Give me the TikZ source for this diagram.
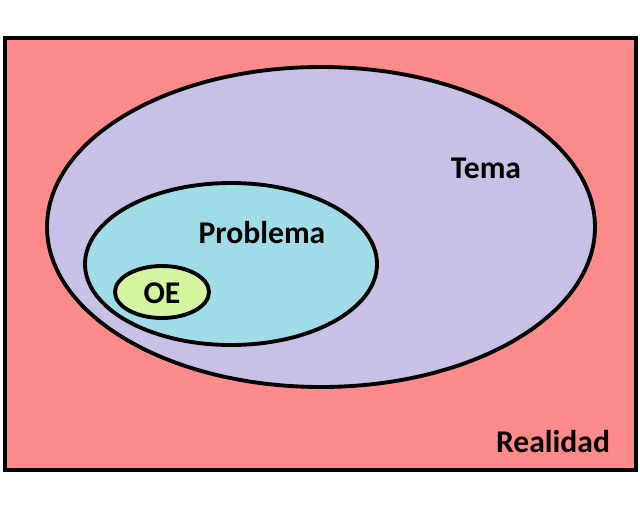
\documentclass[tikz,border=0pt]{standalone}
\usepackage{fontspec}
\setmainfont{Carlito}
\definecolor{realcol}{HTML}{FF8A8A}
\definecolor{temacol}{HTML}{C8C0E6}
\definecolor{probcol}{HTML}{A0DCE8}
\definecolor{oecol}{HTML}{D4F5A0}
\begin{document}
\begin{tikzpicture}[x=0.02cm,y=-0.02cm,
    zone/.style={draw=black,line width=2.2pt},
    lbl/.style={font=\fontsize{18}{20}\selectfont\bfseries}]
        \useasboundingbox (0,0) rectangle (640,518);
        \draw[zone,fill=realcol] (5,38) rectangle (636,470);
        \draw[zone,fill=temacol] (321,227) ellipse (274 and 160);
        \draw[zone,fill=probcol] (231,264) ellipse (146 and 81);
        \draw[zone,fill=oecol] (162,292) ellipse (47 and 26);
        \node[lbl] (tema) at (486,168) {Tema};
        \node[lbl] (problema) at (262,233) {Problema};
        \node[lbl] (oe) at (162,293) {OE};
        \node[lbl] (realidad) at (553,442) {Realidad};
    \end{tikzpicture}
\end{document}
